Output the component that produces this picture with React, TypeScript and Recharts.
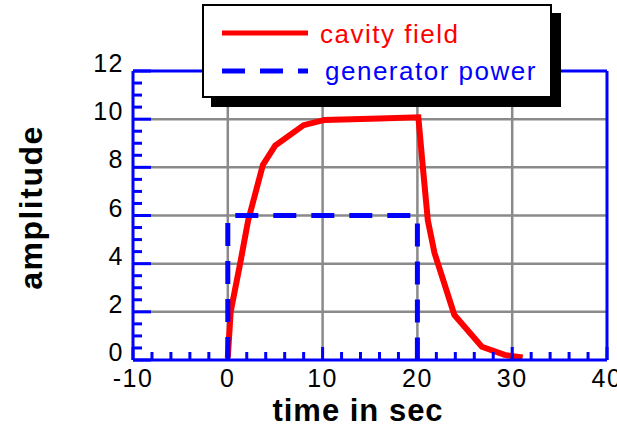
import React from 'react';
import { LineChart, Line, XAxis, YAxis, CartesianGrid, Legend, Label } from 'recharts';

// Cavity field response (time in sec, amplitude)
const cavityTime = [0, 0.3, 1.3, 2.15, 3.7, 5.0, 8.0, 10.2, 16, 20.1, 20.6, 21.1, 21.8, 23.9, 26.8, 29.2, 31.1];
const cavityAmp = [0.1, 2.0, 4.0, 5.8, 8.1, 8.9, 9.75, 9.97, 10.03, 10.08, 7.9, 5.8, 4.45, 1.87, 0.55, 0.21, 0.1];

// Generator power pulse
const generatorTime = [0, 0, 20, 20];
const generatorAmp = [0, 6, 6, 0];

// Axis ticks
const xTicks = [-10, 0, 10, 20, 30, 40];
const yTicks = [0, 2, 4, 6, 8, 10, 12];
const xMinorStep = 2;
const yMinorStep = 0.5;

const seriesInfo = [
  { name: 'cavity field', color: '#ff0000', dash: undefined as string | undefined },
  { name: 'generator power', color: '#0000ff', dash: '23 15' },
];

const cavityData = cavityTime.map((t, i) => ({ t, v: cavityAmp[i] }));
const generatorData = generatorTime.map((t, i) => ({ t, v: generatorAmp[i] }));

const range = (lo: number, hi: number, step: number) => {
  const out: number[] = [];
  for (let k = 0; lo + k * step <= hi + 1e-9; k++) out.push(+(lo + k * step).toFixed(4));
  return out;
};
const xAll = range(xTicks[0], xTicks[xTicks.length - 1], xMinorStep);
const yAll = range(yTicks[0], yTicks[yTicks.length - 1], yMinorStep);
const xGrid = xTicks.slice(1, -1);
const yGrid = yTicks.slice(1, -1);

const BLUE = '#0000ff';
const FONT = '"Liberation Sans", Arial, Helvetica, sans-serif';
const isMajorX = (v: number) => xTicks.includes(v);
const isMajorY = (v: number) => yTicks.includes(v);

const BottomTick = (p: any) => {
  const { x, y, payload } = p;
  const v = payload.value;
  const major = isMajorX(v);
  return (
    <g>
      <line x1={x} x2={x} y1={y} y2={y - (major ? 13 : 8)} stroke={BLUE} strokeWidth={3} />
      {major && (
        <text x={x} y={y + 27} textAnchor="middle" fontSize={25} fontFamily={FONT} fill="#000" letterSpacing={1.5}>
          {v}
        </text>
      )}
    </g>
  );
};

const TopTick = (p: any) => {
  const { x, y, payload } = p;
  const major = isMajorX(payload.value);
  return <line x1={x} x2={x} y1={y} y2={y + (major ? 13 : 7)} stroke={BLUE} strokeWidth={3} />;
};

const LeftTick = (p: any) => {
  const { x, y, payload } = p;
  const v = payload.value;
  const major = isMajorY(v);
  return (
    <g>
      <line x1={x} x2={x + (major ? 18 : 9)} y1={y} y2={y} stroke={BLUE} strokeWidth={3} />
      {major && (
        <text x={x - 9} y={y + 1} textAnchor="end" fontSize={25} fontFamily={FONT} fill="#000" letterSpacing={1.5}>
          {v}
        </text>
      )}
    </g>
  );
};

const RightTick = (p: any) => {
  const { x, y, payload } = p;
  const major = isMajorY(payload.value);
  return <line x1={x} x2={x - (major ? 14 : 7)} y1={y} y2={y} stroke={BLUE} strokeWidth={3} />;
};

const XTitle = (p: any) => {
  const vb = p.viewBox;
  return (
    <text x={vb.x + vb.width / 2 - 12} y={vb.y + 61} textAnchor="middle" fontSize={31} fontWeight="bold" fontFamily={FONT} fill="#000" letterSpacing={1}>
      time in sec
    </text>
  );
};

const YTitle = (p: any) => {
  const vb = p.viewBox;
  const cx = 42;
  const cy = vb.y + vb.height / 2 - 8;
  return (
    <text x={cx} y={cy} transform={`rotate(-90 ${cx} ${cy})`} textAnchor="middle" fontSize={32} fontWeight="bold" fontFamily={FONT} fill="#000" letterSpacing={1.5}>
      amplitude
    </text>
  );
};

const LegendBox = () => (
  <div
    style={{
      width: 350,
      height: 94,
      boxSizing: 'border-box',
      border: '2px solid #000',
      background: '#fff',
      boxShadow: '9px 9px 0 #000',
      position: 'relative',
    }}
  >
    <svg width={346} height={90} style={{ position: 'absolute', left: 0, top: 0 }}>
      {seriesInfo.map((s, i) => (
        <g key={s.name}>
          <line x1={18} x2={104} y1={27 + i * 38} y2={27 + i * 38} stroke={s.color} strokeWidth={5} strokeDasharray={s.dash} />
          <text x={116 + i * 5} y={36.5 + i * 37.5} fontSize={26} fontFamily={FONT} fill={s.color} letterSpacing={1.5}>
            {s.name}
          </text>
        </g>
      ))}
    </svg>
  </div>
);

export default function App() {
  return (
    <div style={{ position: 'absolute', left: 0, top: 0, background: '#fff' }}>
      <LineChart width={617} height={427} margin={{ top: 61, right: 0, bottom: 0, left: 0 }}>
        <CartesianGrid
          xAxisId="b"
          yAxisId="l"
          verticalValues={xGrid}
          horizontalValues={yGrid}
          stroke="#8a8a8a"
          strokeWidth={2.5}
          strokeDasharray=""
        />
        <XAxis
          xAxisId="b"
          dataKey="t"
          type="number"
          domain={[xTicks[0], xTicks[xTicks.length - 1]]}
          ticks={xAll}
          interval={0}
          height={67}
          tickSize={0}
          tickMargin={0}
          tickLine={false}
          axisLine={{ stroke: BLUE, strokeWidth: 3 }}
          tick={BottomTick}
        >
          <Label content={XTitle} />
        </XAxis>
        <XAxis
          xAxisId="t"
          orientation="top"
          dataKey="t"
          type="number"
          domain={[xTicks[0], xTicks[xTicks.length - 1]]}
          ticks={xAll}
          interval={0}
          height={10}
          tickSize={0}
          tickMargin={0}
          tickLine={false}
          axisLine={{ stroke: BLUE, strokeWidth: 3 }}
          tick={TopTick}
        />
        <YAxis
          yAxisId="l"
          type="number"
          domain={[yTicks[0], yTicks[yTicks.length - 1]]}
          ticks={yAll}
          interval={0}
          width={133}
          tickSize={0}
          tickMargin={0}
          tickLine={false}
          axisLine={{ stroke: BLUE, strokeWidth: 3 }}
          tick={LeftTick}
        >
          <Label content={YTitle} />
        </YAxis>
        <YAxis
          yAxisId="r"
          orientation="right"
          type="number"
          domain={[yTicks[0], yTicks[yTicks.length - 1]]}
          ticks={yAll}
          interval={0}
          width={10}
          tickSize={0}
          tickMargin={0}
          tickLine={false}
          axisLine={{ stroke: BLUE, strokeWidth: 3 }}
          tick={RightTick}
        />
        <Line
          xAxisId="b"
          yAxisId="l"
          data={cavityData}
          dataKey="v"
          name={seriesInfo[0].name}
          type="linear"
          stroke={seriesInfo[0].color}
          strokeWidth={6}
          dot={false}
          activeDot={false}
          isAnimationActive={false}
        />
        <Line
          xAxisId="b"
          yAxisId="l"
          data={generatorData}
          dataKey="v"
          name={seriesInfo[1].name}
          type="linear"
          stroke={seriesInfo[1].color}
          strokeWidth={5}
          strokeDasharray={seriesInfo[1].dash}
          strokeLinecap="butt"
          dot={false}
          activeDot={false}
          isAnimationActive={false}
        />
        <Legend
          layout="horizontal"
          verticalAlign="middle"
          align="center"
          wrapperStyle={{ left: 202, top: 4, width: 362, height: 106 }}
          content={LegendBox}
        />
      </LineChart>
    </div>
  );
}
